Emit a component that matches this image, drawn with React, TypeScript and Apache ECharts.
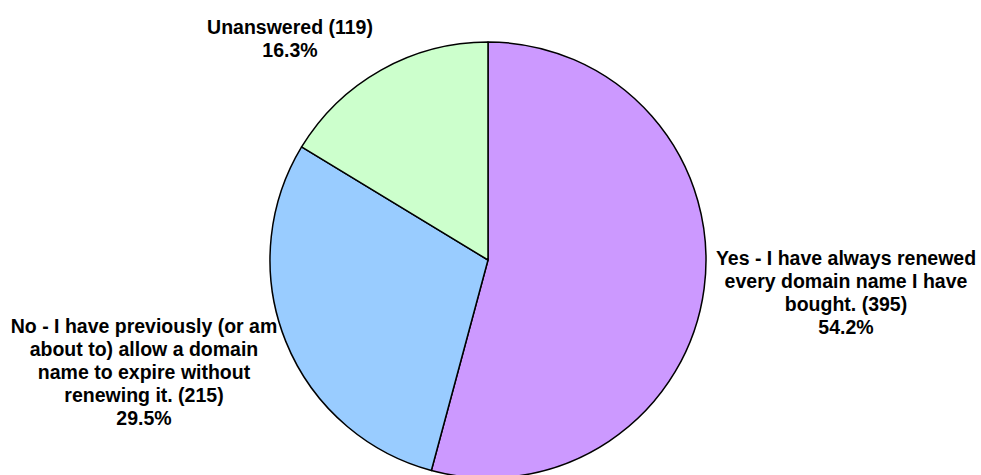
import React, { useEffect, useRef } from "react";
import * as echarts from "echarts";

const categories = [
  "Yes - I have always renewed\nevery domain name I have\nbought.",
  "No - I have previously (or am\nabout to) allow a domain\nname to expire without\nrenewing it.",
  "Unanswered",
];
const counts = [395, 215, 119];
const colors = ["#CC99FF", "#99CCFF", "#CCFFCC"];
const labelCenters: [number, number][] = [
  [846, 292],
  [144, 372],
  [290, 38],
];

export default function App() {
  const ref = useRef<HTMLDivElement>(null);
  useEffect(() => {
    document.body.style.margin = "0";
    if (!ref.current) return;
    const chart = echarts.init(ref.current, null, { renderer: "svg" });
    chart.setOption({
      animation: false,
      backgroundColor: "#ffffff",
      series: [
        {
          type: "pie",
          center: [488, 260],
          radius: 218,
          startAngle: 90,
          clockwise: true,
          percentPrecision: 1,
          avoidLabelOverlap: false,
          itemStyle: { borderColor: "#000000", borderWidth: 1.5 },
          emphasis: { disabled: true },
          labelLine: { show: false },
          label: {
            show: true,
            position: "outside",
            color: "#000000",
            fontFamily: "'Liberation Sans', Arial, sans-serif",
            fontWeight: "bold",
            fontSize: 19.5,
            lineHeight: 23,
            align: "center",
            formatter: (p: any) => `${p.name} (${p.value})\n${p.percent.toFixed(1)}%`,
          },
          labelLayout: (params: any) => {
            const c = labelCenters[params.dataIndex];
            return { x: c[0], y: c[1], align: "center", verticalAlign: "middle" };
          },
          data: categories.map((name, i) => ({
            name,
            value: counts[i],
            itemStyle: { color: colors[i] },
          })),
        },
      ],
    });
    return () => chart.dispose();
  }, []);
  return <div ref={ref} style={{ width: 981, height: 475 }} />;
}
